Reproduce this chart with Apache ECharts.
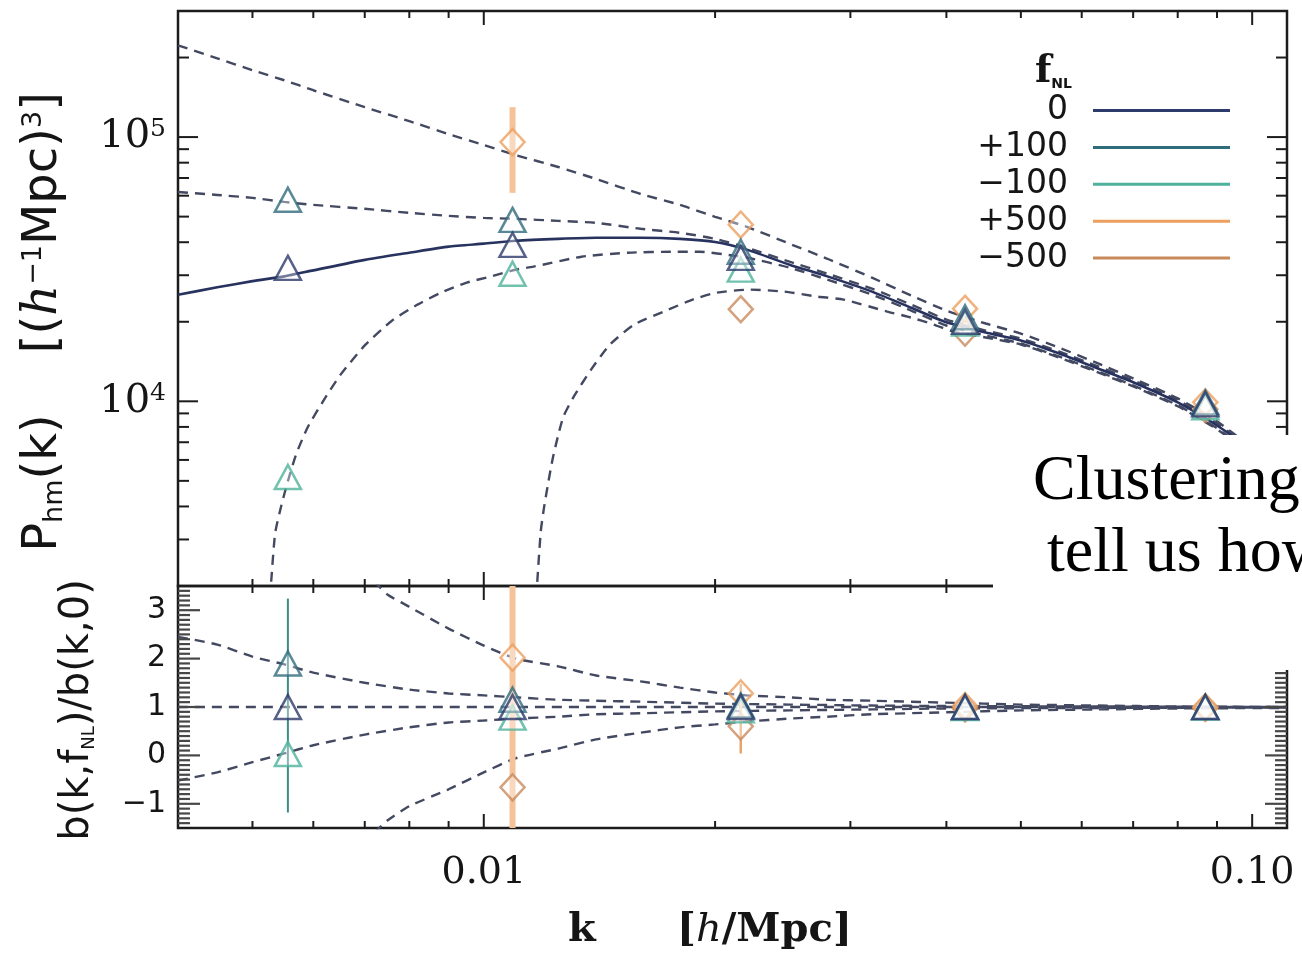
<!DOCTYPE html>
<html><head><meta charset="utf-8">
<script src="https://cdn.jsdelivr.net/npm/echarts@6/dist/echarts.min.js"></script>
<style>html,body{margin:0;padding:0;background:#fff}#c{width:1302px;height:957px}</style>
</head><body><div id="c"></div><script>
// ---------- data ----------
const SERIES_NAMES = ['0', '+100', '\u2212100', '+500', '\u2212500'];
const K_PTS = [0.00556, 0.0109, 0.0216, 0.0423, 0.0869];
// top panel: P_hm(k) measurements
const P_F0   = [32000, 39100, 34900, 20000, 9740];
const P_P100 = [57900, 48600, 36800, 20800, 9910];
const P_M100 = [5170, 30400, 31500, 19700, 9490];
const P_P500 = [null, 95700, 46600, 22400, 9910];
const P_M500 = [null, null, 22300, 18200, 9330];
// bottom panel: bias ratio measurements
const B_F0   = [1, 1, 1, 1, 1];
const B_P100 = [1.9, 1.15, 1.03, 1.0, 1.0];
const B_M100 = [0.03, 0.78, 0.93, 0.98, 0.99];
const B_P500 = [null, 2.02, 1.28, 1.02, 1.0];
const B_M500 = [null, -0.66, 0.6, 0.97, 0.98];
// error bars
const ERR_TOP_K = [0.0109];
const ERR_TOP_LO = [61500];
const ERR_TOP_HI = [129800];
const ERR_BOT_K = [0.00556, 0.0109, 0.0216];
const ERR_BOT_LO = [-1.18, -1.5, 0.04];
const ERR_BOT_HI = [3.24, 3.5, 1.48];

// model curves, top panel
const K_GRID = [0.004,0.0045,0.005,0.0055,0.006,0.007,0.008,0.009,0.01,0.011,0.0125,0.014,0.016,0.018,0.02,0.022,0.025,0.028,0.032,0.036,0.04,0.045,0.05,0.056,0.063,0.07,0.08,0.09,0.1,0.111];
const MODEL_F0 = [25300,27000,28500,29700,31300,34300,36500,38500,39500,40500,41200,41600,41600,41200,40100,37500,32900,29700,26000,22600,19900,18200,17000,15200,13300,11800,9900,8100,6500,5100];
const MODEL_P500 = [222300,198700,178970,164100,150400,129800,114900,102600,93300,85500,77040,69430,60900,55400,49900,45750,39470,34630,29370,25120,22050,19700,18050,15990,13910,12210,10260,8400,6650,5170];
const MODEL_P100 = [62000,60400,58870,56840,55400,53520,51670,50320,49450,49030,48190,47360,44960,43420,41210,38120,33760,30410,26690,23230,20390,18520,17280,15440,13550,12000,10090,8260,6530,5120];
const K_M100 = [0.00527,0.00535,0.00545,0.00556,0.0057,0.0059,0.0062,0.0065,0.007,0.0076,0.0082,0.0088,0.0095,0.0102,0.011,0.0116,0.0134,0.0154,0.0177,0.0191,0.0212,0.022,0.025,0.028,0.032,0.036,0.04,0.045,0.05,0.056,0.063,0.07,0.08,0.09,0.1,0.111];
const MODEL_M100 = [1790,3150,4016,4990,6310,7978,10170,12530,16270,20220,23230,25780,28130,29630,31480,32320,35250,36500,36810,36810,35550,35000,32040,28870,25340,22050,19360,17750,16550,14780,12980,11490,9660,7910,6310,4990];
const K_M500 = [0.0117,0.01186,0.01197,0.01211,0.01229,0.01248,0.0127,0.0131,0.0138,0.0146,0.0157,0.0174,0.0187,0.0201,0.0222,0.0246,0.0272,0.0294,0.0335,0.0356,0.0385,0.0408,0.045,0.05,0.056,0.063,0.07,0.08,0.09,0.1,0.111];
const MODEL_M500 = [1790,3200,3910,4780,6040,7315,8780,10440,13210,16410,19530,22250,24260,25780,26460,26010,24900,24260,21860,20930,19530,18380,17440,16410,14660,12860,11390,9580,7840,6255,4905];

// model curves, bottom panel
const K_B100 = [0.004,0.0045,0.005,0.0055,0.006,0.007,0.008,0.009,0.01,0.011,0.0125,0.014,0.016,0.02,0.025,0.032,0.04,0.063,0.111];
const BMODEL_P100 = [2.45,2.29,2.04,1.88,1.71,1.5,1.36,1.28,1.24,1.2,1.15,1.13,1.11,1.07,1.05,1.03,1.02,1.01,1.0];
const BMODEL_M100 = [-0.52,-0.35,-0.14,0.04,0.21,0.43,0.58,0.68,0.72,0.76,0.8,0.85,0.87,0.91,0.93,0.95,0.97,0.98,0.99];
const K_B500 = [0.0072,0.0075,0.008,0.009,0.01,0.011,0.0125,0.014,0.016,0.018,0.02,0.022,0.025,0.028,0.032,0.04,0.05,0.063,0.08,0.111];
const BMODEL_P500 = [3.6,3.32,3.07,2.62,2.27,2.0,1.84,1.65,1.53,1.4,1.3,1.24,1.2,1.15,1.13,1.09,1.05,1.03,1.01,1.0];
const BMODEL_M500 = [-1.6,-1.34,-1.05,-0.7,-0.35,-0.06,0.14,0.33,0.47,0.58,0.64,0.7,0.76,0.8,0.85,0.89,0.93,0.95,0.97,0.98];
const K_B0 = [0.004, 0.111];
const BMODEL_F0 = [1, 1];

// ticks
const X_MAJOR = [0.01, 0.1];
const X_MINOR = [0.005,0.006,0.007,0.008,0.009,0.02,0.03,0.04,0.05,0.06,0.07,0.08,0.09];
const YTOP_MAJOR = [1e4, 1e5];
const YTOP_MINOR = [3000,4000,5000,6000,7000,8000,9000,20000,30000,40000,50000,60000,70000,80000,90000,200000];
const YBOT_MAJOR = [-1, 0, 1, 2, 3];
const YBOT_MINOR = [-1.4,-1.3,-1.2,-1.1,-0.9,-0.8,-0.7,-0.6,-0.5,-0.4,-0.3,-0.2,-0.1,0.1,0.2,0.3,0.4,0.5,0.6,0.7,0.8,0.9,1.1,1.2,1.3,1.4,1.5,1.6,1.7,1.8,1.9,2.1,2.2,2.3,2.4,2.5,2.6,2.7,2.8,2.9,3.1,3.2,3.3,3.4];

// ---------- styles ----------
const COLORS = ['#2c3a6c', '#2f6c7c', '#4db19b', '#ec9f5e', '#c98a5b'];
const SYMBOLS = ['triangle', 'triangle', 'triangle', 'diamond', 'diamond'];
const DASH = '#444962';
const SERIF = '"DejaVu Serif", serif';
const SANS = '"DejaVu Sans", sans-serif';
const ERR_TOP_STYLE = [{c: '#f4c39a', w: 6}];
const ERR_BOT_STYLE = [{c: '#3f8c87', w: 2}, {c: '#f4c39a', w: 6}, {c: '#e9a46a', w: 2.5}];

const zip = (xs, ys) => xs.map((x, i) => [x, ys[i]]).filter(p => p[1] !== null);

function modelLine(grid, xs, ys, dashed, color, width) {
  return {type: 'line', xAxisIndex: grid, yAxisIndex: grid, data: zip(xs, ys), showSymbol: false,
    symbol: 'none', smooth: 0.2, clip: true, silent: true, z: 2,
    lineStyle: {color: color, width: width, type: dashed ? [10, 7] : 'solid'}};
}
function markers(grid, idx, ys) {
  const tri = SYMBOLS[idx] === 'triangle';
  return {type: 'scatter', name: SERIES_NAMES[idx], xAxisIndex: grid, yAxisIndex: grid,
    data: zip(K_PTS, ys), symbol: SYMBOLS[idx], symbolSize: tri ? [26, 24] : [24, 26], z: 4,
    itemStyle: {color: 'rgba(255,255,255,0.45)', borderColor: COLORS[idx], borderWidth: 2.5}};
}
function errBars(grid, ks, lo, hi, styles) {
  return {type: 'custom', xAxisIndex: grid, yAxisIndex: grid, z: 3, silent: true, clip: true,
    data: ks.map((k, i) => [k, lo[i], hi[i], i]), encode: {x: 0, y: [1, 2]},
    renderItem: function (params, api) {
      const a = api.coord([api.value(0), api.value(1)]);
      const b = api.coord([api.value(0), api.value(2)]);
      const s = styles[api.value(3)];
      return {type: 'line', shape: {x1: a[0], y1: a[1], x2: b[0], y2: b[1]}, style: {stroke: s.c, lineWidth: s.w}};
    }};
}
function ticks(grid, axis, majors, minors, ref, majLen, minLen, color, width) {
  const mk = (v, m) => axis === 'x' ? [v, ref, m] : [ref, v, m];
  const data = majors.map(v => mk(v, 1)).concat(minors.map(v => mk(v, 0)));
  return {type: 'custom', xAxisIndex: grid, yAxisIndex: grid, z: 6, silent: true, data: data,
    encode: {x: 0, y: 1},
    renderItem: function (params, api) {
      const cs = params.coordSys;
      const p = api.coord([api.value(0), api.value(1)]);
      const L = api.value(2) ? majLen : minLen;
      let ls;
      if (axis === 'x') ls = [[p[0], cs.y, p[0], cs.y + L], [p[0], cs.y + cs.height, p[0], cs.y + cs.height - L]];
      else ls = [[cs.x, p[1], cs.x + L, p[1]], [cs.x + cs.width, p[1], cs.x + cs.width - L, p[1]]];
      return {type: 'group', children: ls.map(l => ({type: 'line',
        shape: {x1: l[0], y1: l[1], x2: l[2], y2: l[3]}, style: {stroke: color, lineWidth: width}}))};
    }};
}

const isDecade = v => Math.abs(Math.log10(v) - Math.round(Math.log10(v))) < 1e-6;
const hiddenAxis = {axisLine: {show: false}, axisTick: {show: false}, splitLine: {show: false}};

const option = {
  animation: false,
  backgroundColor: '#ffffff',
  grid: [
    {left: 178, top: 11, width: 1109, height: 575, show: true, borderColor: '#1c1c1c', borderWidth: 2.5, backgroundColor: 'transparent'},
    {left: 178, top: 586, width: 1109, height: 242, show: true, borderColor: '#1c1c1c', borderWidth: 2.5, backgroundColor: 'transparent'}
  ],
  xAxis: [
    Object.assign({gridIndex: 0, type: 'log', logBase: 10, min: 0.004, max: 0.111, axisLabel: {show: false}}, hiddenAxis),
    Object.assign({gridIndex: 1, type: 'log', logBase: 10, min: 0.004, max: 0.111,
      axisLabel: {show: true, margin: 26, fontFamily: SERIF, fontSize: 38, color: '#151515',
        showMinLabel: false, showMaxLabel: false,
        formatter: v => isDecade(v) ? (Math.round(Math.log10(v)) === -2 ? '0.01' : (Math.round(Math.log10(v)) === -1 ? '0.10' : '')) : ''}}, hiddenAxis)
  ],
  yAxis: [
    Object.assign({gridIndex: 0, type: 'log', logBase: 10, min: 2000, max: 300000,
      axisLabel: {margin: 12, fontFamily: SERIF, fontSize: 40, color: '#151515',
        formatter: v => isDecade(v) ? '10{s|' + Math.round(Math.log10(v)) + '}' : '',
        rich: {s: {fontFamily: SERIF, fontSize: 25, verticalAlign: 'top', color: '#151515'}}}}, hiddenAxis),
    Object.assign({gridIndex: 1, type: 'value', min: -1.5, max: 3.5, splitNumber: 5,
      axisLabel: {margin: 12, fontFamily: SANS, fontSize: 30, color: '#151515',
        formatter: v => Number.isInteger(v) ? (v < 0 ? '\u2212' + Math.abs(v) : String(v)) : ''}}, hiddenAxis)
  ],
  legend: {
    right: 72, top: 94, orient: 'vertical', align: 'right', padding: 0, selectedMode: false,
    icon: 'rect', itemWidth: 137, itemHeight: 3, itemGap: 3.9,
    textStyle: {fontFamily: SANS, fontSize: 33, color: '#151515', lineHeight: 30, padding: [0, 20, 0, 0]},
    data: SERIES_NAMES.map((n, i) => ({name: n, icon: 'rect', itemStyle: {color: COLORS[i], borderWidth: 0, opacity: 1}}))
  },
  series: [
    // top models
    modelLine(0, K_GRID, MODEL_P500, true, DASH, 2.4),
    modelLine(0, K_GRID, MODEL_P100, true, DASH, 2.4),
    modelLine(0, K_M100, MODEL_M100, true, DASH, 2.4),
    modelLine(0, K_M500, MODEL_M500, true, DASH, 2.4),
    modelLine(0, K_GRID, MODEL_F0, false, '#27325f', 2.6),
    // bottom models
    modelLine(1, K_B0, BMODEL_F0, true, DASH, 2.4),
    modelLine(1, K_B100, BMODEL_P100, true, DASH, 2.4),
    modelLine(1, K_B100, BMODEL_M100, true, DASH, 2.4),
    modelLine(1, K_B500, BMODEL_P500, true, DASH, 2.4),
    modelLine(1, K_B500, BMODEL_M500, true, DASH, 2.4),
    // error bars
    errBars(0, ERR_TOP_K, ERR_TOP_LO, ERR_TOP_HI, ERR_TOP_STYLE),
    errBars(1, ERR_BOT_K, ERR_BOT_LO, ERR_BOT_HI, ERR_BOT_STYLE),
    // markers
    markers(0, 4, P_M500), markers(0, 3, P_P500), markers(0, 2, P_M100), markers(0, 1, P_P100), markers(0, 0, P_F0),
    markers(1, 4, B_M500), markers(1, 3, B_P500), markers(1, 2, B_M100), markers(1, 1, B_P100), markers(1, 0, B_F0),
    // ticks
    ticks(0, 'x', X_MAJOR, X_MINOR, 10000, 14, 7, '#1c1c1c', 2),
    ticks(1, 'x', X_MAJOR, X_MINOR, 0, 14, 7, '#1c1c1c', 2),
    ticks(0, 'y', YTOP_MAJOR, YTOP_MINOR, 0.01, 20, 11, '#1c1c1c', 2),
    ticks(1, 'y', YBOT_MAJOR, YBOT_MINOR, 0.01, 22, 12, '#474747', 2.2)
  ],
  graphic: [
    {type: 'text', x: 44, y: 322, rotation: Math.PI / 2, z: 50,
      style: {text: '{a|P}{b|hm}{a|(k)}{g|    }{a|[(}{i|h}{s|\u22121}{a|Mpc)}{s|3}{a|]}', align: 'center', verticalAlign: 'middle',
        rich: {a: {fontFamily: SANS, fontSize: 48, fill: '#151515'}, b: {fontFamily: SANS, fontSize: 27, verticalAlign: 'bottom', fill: '#151515'},
          i: {fontFamily: SERIF, fontStyle: 'italic', fontSize: 48, fill: '#151515'}, s: {fontFamily: SANS, fontSize: 27, verticalAlign: 'top', fill: '#151515'},
          g: {fontFamily: SANS, fontSize: 48}}}},
    {type: 'text', x: 78, y: 710, rotation: Math.PI / 2, z: 50,
      style: {text: '{a|b(k,f}{b|NL}{a|)/b(k,0)}', align: 'center', verticalAlign: 'middle',
        rich: {a: {fontFamily: SANS, fontSize: 40, fill: '#151515'}, b: {fontFamily: SANS, fontSize: 18, verticalAlign: 'bottom', fill: '#151515'}}}},
    {type: 'text', x: 568, y: 931, z: 50, style: {text: 'k', fontFamily: SERIF, fontWeight: 'bold', fontSize: 40, fill: '#151515', verticalAlign: 'middle'}},
    {type: 'text', x: 677, y: 931, z: 50,
      style: {text: '{a|[}{i|h}{a|/Mpc]}', verticalAlign: 'middle',
        rich: {a: {fontFamily: SERIF, fontWeight: 'bold', fontSize: 40, fill: '#151515'}, i: {fontFamily: SERIF, fontStyle: 'italic', fontSize: 40, fill: '#151515'}}}},
    {type: 'text', x: 1072, y: 72, z: 50,
      style: {text: '{f|f}{n|NL}', align: 'right', verticalAlign: 'middle',
        rich: {f: {fontFamily: SERIF, fontWeight: 'bold', fontSize: 38, fill: '#151515'}, n: {fontFamily: SANS, fontWeight: 'bold', fontSize: 14, verticalAlign: 'bottom', fill: '#151515'}}}},
    // slide overlay
    {type: 'rect', z: 100, shape: {x: 993, y: 435, width: 309, height: 235}, style: {fill: '#ffffff'}},
    {type: 'text', z: 101, x: 1033, y: 482, style: {text: 'Clustering', fontFamily: '"Liberation Serif", serif', fontSize: 64, fill: '#000', verticalAlign: 'middle'}},
    {type: 'text', z: 101, x: 1047, y: 554, style: {text: 'tell us how', fontFamily: '"Liberation Serif", serif', fontSize: 64, fill: '#000', verticalAlign: 'middle'}}
  ]
};
const chart = echarts.init(document.getElementById('c'), null, {renderer: 'canvas'});
chart.setOption(option);
</script></body></html>
